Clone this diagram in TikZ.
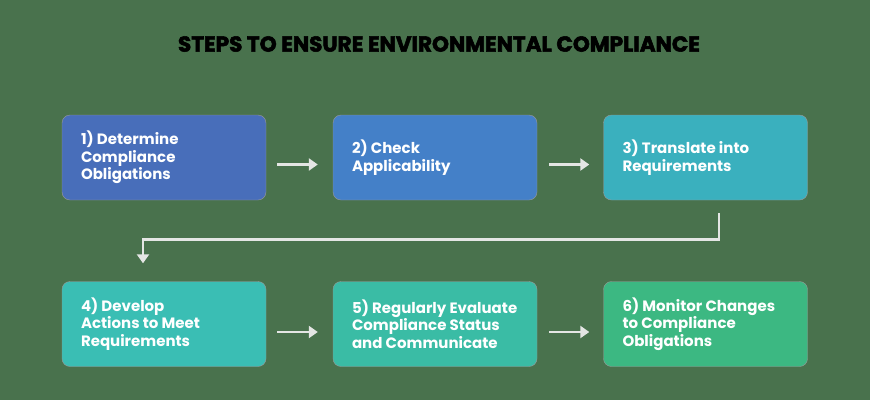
\documentclass[tikz,border=0pt]{standalone}
\usepackage{fontspec}
\setmainfont{Poppins}
\newfontfamily\titlefont{Poppins}[BoldFeatures={FakeBold=2.5}]
\usetikzlibrary{arrows.meta,calc}
\definecolor{bg}{RGB}{73,114,77}
\definecolor{cA}{RGB}{72,110,186}
\definecolor{cB}{RGB}{68,128,200}
\definecolor{cC}{RGB}{58,176,190}
\definecolor{cD}{RGB}{58,190,180}
\definecolor{cE}{RGB}{58,188,165}
\definecolor{cF}{RGB}{60,184,130}
\definecolor{arr}{RGB}{228,230,228}
\tikzset{
  stepbox/.style={rectangle, rounded corners=8pt, minimum width=204pt, minimum height=85pt, inner sep=0pt, draw=black!40, line width=0.4pt},
  steptext/.style={anchor=west, align=left, text=white, font=\bfseries\fontsize{15}{17.5}\selectfont, inner sep=0pt},
  flow/.style={draw=arr, line width=2.8pt, -{Triangle[length=9pt,width=12pt]}},
}
\begin{document}
\begin{tikzpicture}[x=1pt,y=-1pt]
\fill[bg] (0,0) rectangle (870,400);
\useasboundingbox (0,0) rectangle (870,400);
\node[font=\titlefont\bfseries] (title) at (439,44) {\resizebox{522pt}{!}{STEPS TO ENSURE ENVIRONMENTAL COMPLIANCE}};
\node[stepbox, fill=cA] (b1) at (164,157.5) {};
\node[stepbox, fill=cB] (b2) at (435,157.5) {};
\node[stepbox, fill=cC] (b3) at (705.5,157.5) {};
\node[stepbox, fill=cD] (b4) at (164,324) {};
\node[stepbox, fill=cE] (b5) at (435,324) {};
\node[stepbox, fill=cF] (b6) at (705.5,324) {};
\node[steptext] (t1) at ($(b1.west)+(19,0)$) {1) Determine\\Compliance\\Obligations};
\node[steptext] (t2) at ($(b2.west)+(19,0)$) {2) Check\\Applicability};
\node[steptext] (t3) at ($(b3.west)+(19,0)$) {3) Translate into\\Requirements};
\node[steptext] (t4) at ($(b4.west)+(19,0)$) {4) Develop\\Actions to Meet\\Requirements};
\node[steptext] (t5) at ($(b5.west)+(19,0)$) {5) Regularly Evaluate\\Compliance Status\\and Communicate};
\node[steptext] (t6) at ($(b6.west)+(19,0)$) {6) Monitor Changes\\to Compliance\\Obligations};
\draw[flow] ($(b1.east)+(11,7)$) -- ($(b2.west)+(-15,7)$);
\draw[flow] ($(b2.east)+(12,7)$) -- ($(b3.west)+(-14,7)$);
\draw[flow] ($(b4.east)+(11,8)$) -- ($(b5.west)+(-15,8)$);
\draw[flow] ($(b5.east)+(12,8)$) -- ($(b6.west)+(-14,8)$);
\coordinate (c1) at ($(b3.south)+(13.5,13)$);
\draw[flow] (c1) |- ($(b4.north)+(-21,-42)$) -- ($(b4.north)+(-21,-18)$);
\end{tikzpicture}
\end{document}
